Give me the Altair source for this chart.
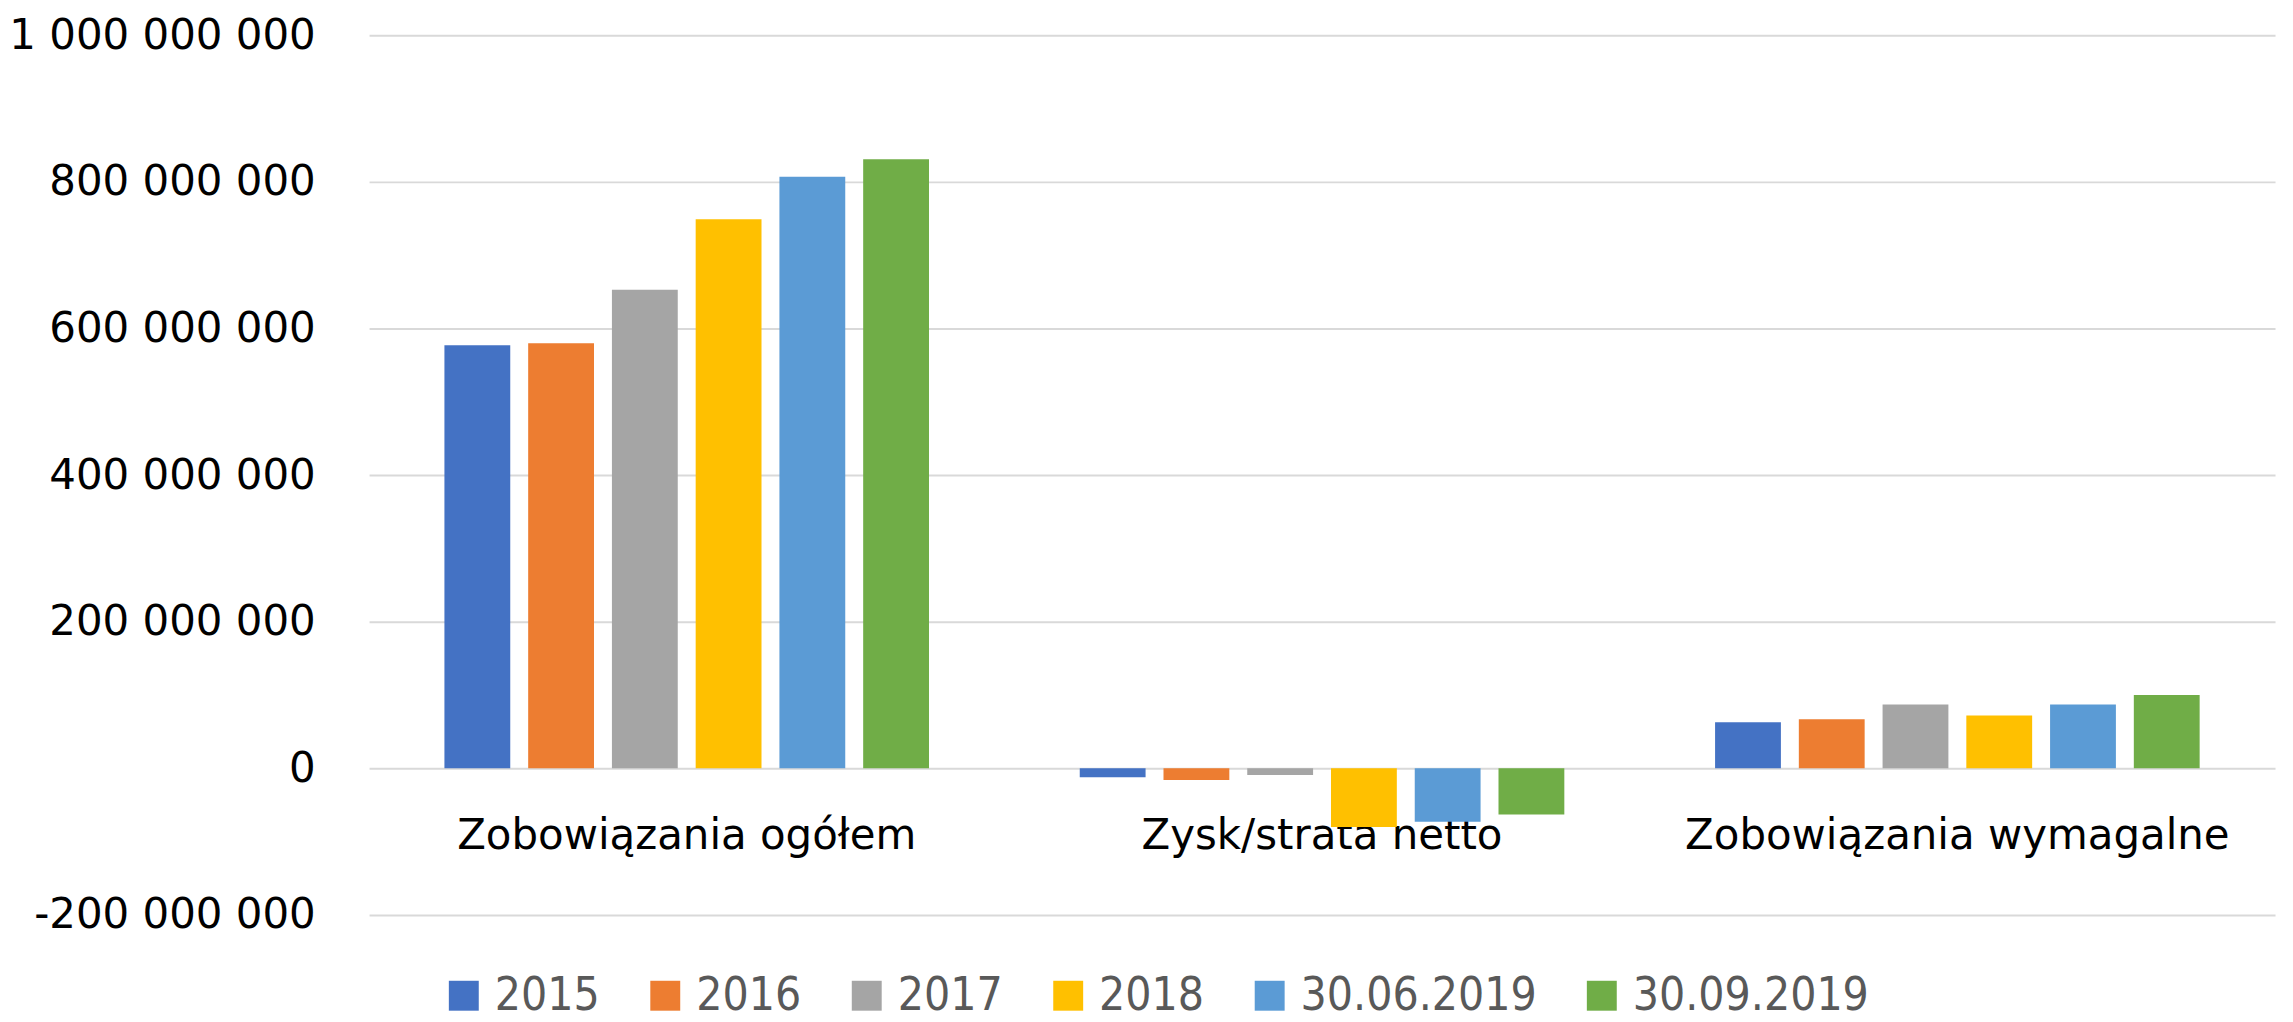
import altair as alt
import pandas as pd

categories = ["Zobowiązania ogółem", "Zysk/strata netto", "Zobowiązania wymagalne"]
series = ["2015", "2016", "2017", "2018", "30.06.2019", "30.09.2019"]
colors = ["#4472C4", "#ED7D31", "#A5A5A5", "#FFC000", "#5B9BD5", "#70AD47"]

v2015 = [577_000_000, -12_000_000, 63_000_000]
v2016 = [580_000_000, -16_000_000, 67_000_000]
v2017 = [653_000_000, -9_000_000, 87_000_000]
v2018 = [749_000_000, -80_000_000, 72_000_000]
v3006 = [807_000_000, -73_000_000, 87_000_000]
v3009 = [831_000_000, -63_000_000, 100_000_000]

y_ticks = [-200_000_000, 0, 200_000_000, 400_000_000, 600_000_000, 800_000_000, 1_000_000_000]

rows = []
for s, vals in zip(series, [v2015, v2016, v2017, v2018, v3006, v3009]):
    for c, v in zip(categories, vals):
        rows.append({"kategoria": c, "okres": s, "wartosc": v})
df = pd.DataFrame(rows)

label_expr = "replace(replace(format(datum.value, ','), regexp(',', 'g'), ' '), '−', '-')"

chart = alt.Chart(df).mark_bar().encode(
    x=alt.X(
        "kategoria:N", sort=categories,
        scale=alt.Scale(paddingInner=0, paddingOuter=0),
        axis=alt.Axis(title=None, orient="bottom", offset=-100, labelPadding=0, ticks=False,
                      domain=False, labelAngle=0, labelFont="DejaVu Sans", labelFontSize=42,
                      labelColor="#000000", grid=False, labelBaseline="top", labelLimit=0),
    ),
    xOffset=alt.XOffset("okres:N", sort=series,
                        scale=alt.Scale(paddingInner=0.214, paddingOuter=0.9)),
    y=alt.Y(
        "wartosc:Q",
        scale=alt.Scale(domain=[-200_000_000, 1_000_000_000], nice=False, zero=False),
        axis=alt.Axis(title=None, values=y_ticks, labelExpr=label_expr, ticks=False, domain=False,
                      labelFont="DejaVu Sans", labelFontSize=42, labelColor="#000000",
                      labelPadding=54, gridColor="#d9d9d9", gridWidth=2, labelLimit=0),
    ),
    color=alt.Color(
        "okres:N", sort=series,
        scale=alt.Scale(domain=series, range=colors),
        legend=alt.Legend(orient="none", legendX=72, legendY=940, direction="horizontal",
                          columns=6, title=None, symbolType="square", symbolSize=900,
                          symbolStrokeWidth=0, labelFont="DejaVu Sans Condensed",
                          labelFontSize=46, labelColor="#595959", columnPadding=42,
                          labelOffset=8, padding=0, labelLimit=0),
    ),
).properties(
    width=1911, height=882,
    autosize=alt.AutoSizeParams(type="none"),
    padding={"left": 362, "top": 26, "right": 10, "bottom": 104},
).configure_view(stroke=None)

chart.save("out.html", embed_options={"renderer": "svg", "actions": False})
